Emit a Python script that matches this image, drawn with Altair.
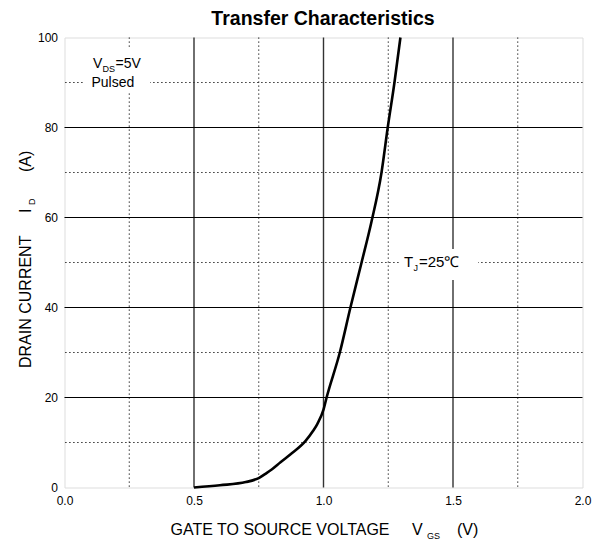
import altair as alt
import pandas as pd

# Curve
vgs = [0.50, 0.60, 0.70, 0.75, 0.78, 0.80, 0.834, 0.88, 0.93, 0.96, 0.976, 1.00, 1.012, 1.063, 1.104, 1.147, 1.185, 1.224, 1.248, 1.274, 1.297]
i_d = [0.0, 0.5, 1.2, 2.1, 3.2, 4.0, 5.6, 7.7, 10.3, 12.6, 14.1, 17.3, 20.0, 30.0, 40.0, 50.0, 59.0, 70.0, 80.0, 90.0, 100.0]

# Grid lines
major_x = [0.5, 1.0, 1.5]
minor_x = [0.25, 0.75, 1.25, 1.75]
major_y = [20, 40, 60, 80]
minor_y = [10, 30, 50, 70, 90]

# Tick labels
x_ticks = [0.0, 0.5, 1.0, 1.5, 2.0]
y_ticks = [0, 20, 40, 60, 80, 100]

# Texts
title_text = "Transfer Characteristics"
x_title = ["GATE TO SOURCE VOLTAGE", "V", "GS", "(V)"]
y_title = ["DRAIN CURRENT", "I", "D", "(A)"]
note_vds = ["V", "DS", "=5V"]
note_pulsed = "Pulsed"
note_tj = ["T", "J", "=25\u2103"]

FONT = "Liberation Sans"
xs = alt.Scale(domain=[0, 2], nice=False, zero=False)
ys = alt.Scale(domain=[0, 100], nice=False)
x_axis = alt.Axis(values=x_ticks, format=".1f", title=None, grid=False, domain=False, ticks=False,
                  labelFlush=False, labelPadding=8, labelFont=FONT, labelFontSize=12, labelColor="black")
y_axis = alt.Axis(values=y_ticks, title=None, grid=False, domain=False, ticks=False,
                  labelFlush=False, labelPadding=7, labelFont=FONT, labelFontSize=12, labelColor="black")

curve = alt.Chart(pd.DataFrame({"v": vgs, "i": i_d})).mark_line(
    color="black", strokeWidth=2.6, interpolate="monotone"
).encode(
    x=alt.X("v:Q", scale=xs, axis=x_axis),
    y=alt.Y("i:Q", scale=ys, axis=y_axis),
)

vmaj = alt.Chart(pd.DataFrame({"v": major_x})).mark_rule(color="#333", strokeWidth=1.4).encode(
    x=alt.X("v:Q", scale=xs, axis=x_axis))
vmin = alt.Chart(pd.DataFrame({"v": minor_x})).mark_rule(color="black", strokeWidth=1, strokeDash=[1.2, 2.8]).encode(
    x=alt.X("v:Q", scale=xs, axis=x_axis))
hmaj = alt.Chart(pd.DataFrame({"i": major_y})).mark_rule(color="black", strokeWidth=1).encode(
    y=alt.Y("i:Q", scale=ys, axis=y_axis))
hmin = alt.Chart(pd.DataFrame({"i": minor_y})).mark_rule(color="black", strokeWidth=1, strokeDash=[1.2, 2.8]).encode(
    y=alt.Y("i:Q", scale=ys, axis=y_axis))


def box(x1, x2, y1, y2):
    return alt.Chart(pd.DataFrame({"b": [0]})).mark_rect(fill="white", stroke=None).encode(
        x=alt.value(x1), x2=alt.value(x2), y=alt.value(y1), y2=alt.value(y2))


def txt(s, x, y, size=15, angle=0, weight="normal", align="left"):
    return alt.Chart(pd.DataFrame({"t": [s]})).mark_text(
        align=align, baseline="alphabetic", fontSize=size, font=FONT, angle=angle,
        fontWeight=weight, color="black"
    ).encode(x=alt.value(x), y=alt.value(y), text="t:N")


boxes = [box(20.5, 85.5, 9.5, 54.5), box(334.5, 413.5, 211.5, 242.5)]

texts = [
    txt(title_text, 258.5, -13, size=19.5, weight="bold", align="center"),
    # x title
    txt(x_title[0], 106, 497, size=16),
    txt(x_title[1], 347.5, 497, size=16),
    txt(x_title[2], 362.5, 501, size=9),
    txt(x_title[3], 392.5, 497, size=16),
    # y title (rotated)
    txt(y_title[0], -33.5, 330.5, size=16, angle=270),
    txt(y_title[1], -33.5, 175.5, size=16, angle=270),
    txt(y_title[2], -29.5, 167.5, size=9, angle=270),
    txt(y_title[3], -33.5, 134.5, size=16, angle=270),
    # notes
    txt(note_vds[0], 28.5, 30.5, size=14),
    txt(note_vds[1], 38, 34.5, size=9),
    txt(note_vds[2], 51, 30.5, size=14),
    txt(note_pulsed, 27, 49.5, size=14),
    txt(note_tj[0], 339.5, 229.5, size=15),
    txt(note_tj[1], 349, 233.5, size=9),
    txt(note_tj[2], 354.5, 229.5, size=15),
]

chart = alt.layer(vmin, hmin, vmaj, hmaj, *boxes, curve, *texts).properties(
    width=518, height=450,
    autosize=alt.AutoSizeParams(type="none"),
    padding={"left": 56.5, "top": 29.5, "right": 12.5, "bottom": 57.5},
).configure_view(stroke="black", strokeWidth=1).configure(background="white")

chart.save("out.html", embed_options={"renderer": "svg", "actions": False})
